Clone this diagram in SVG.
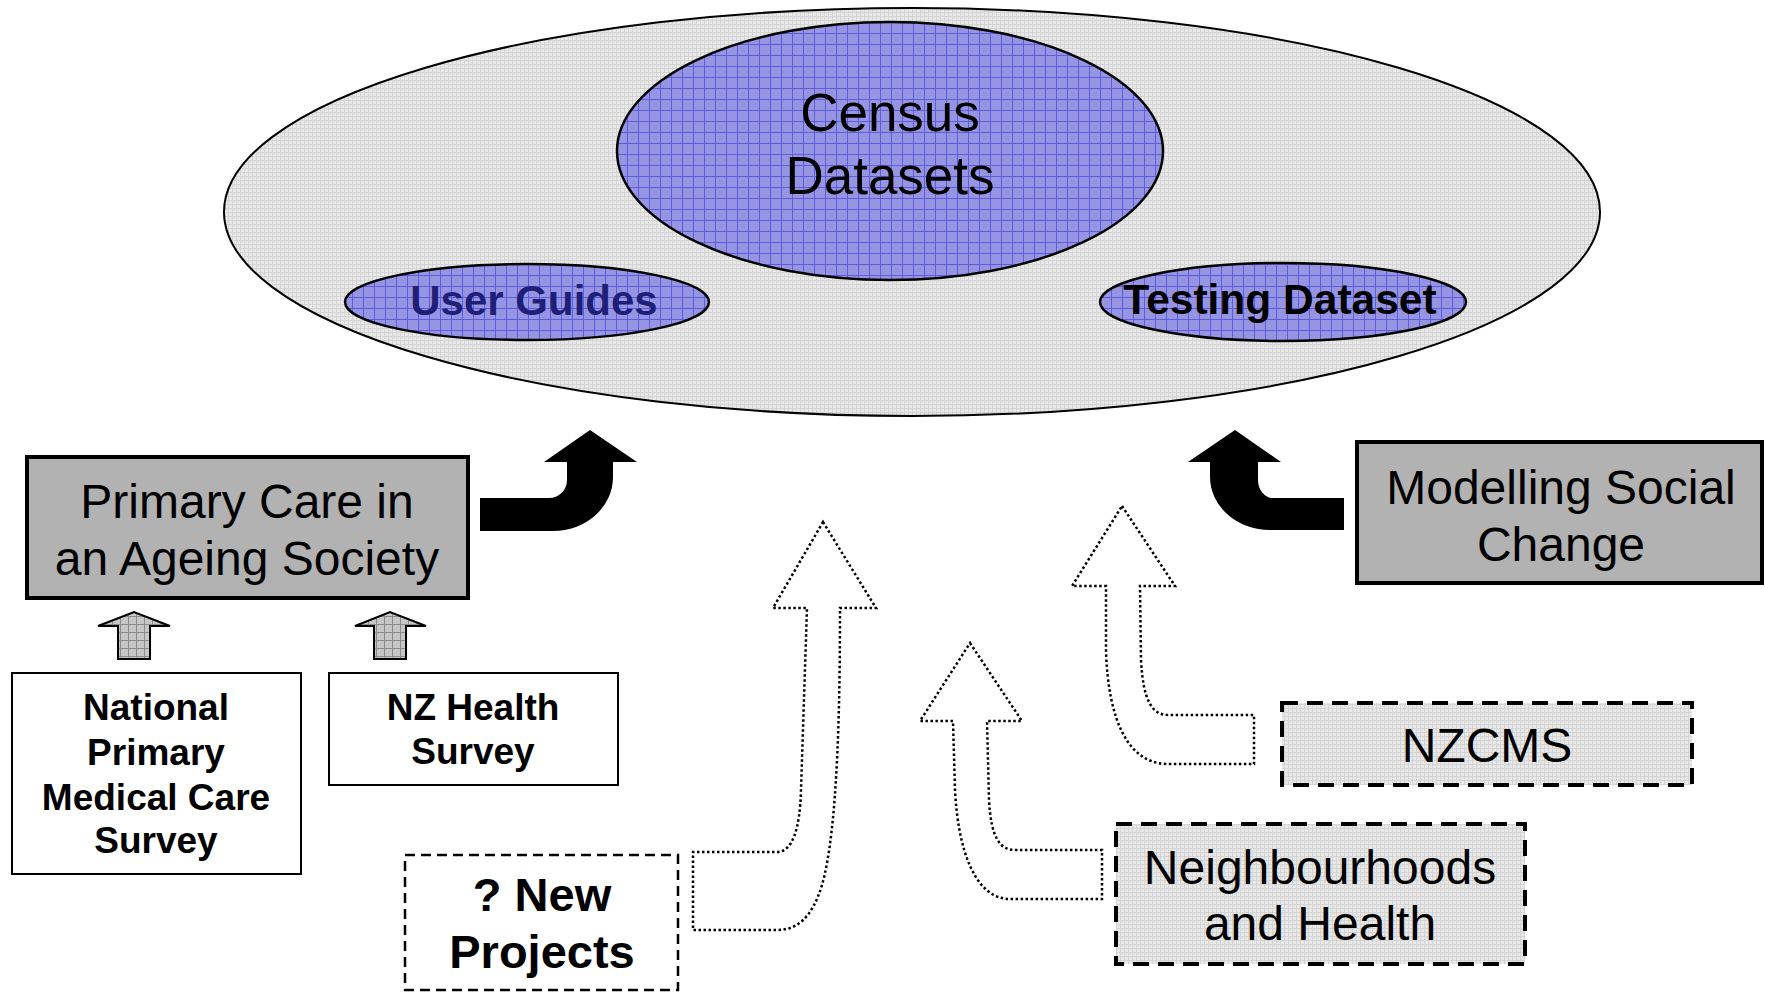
<svg xmlns="http://www.w3.org/2000/svg" width="1765" height="992" viewBox="0 0 1765 992">
  <defs>
    <!-- fine grey weave used for the outer pool and the dashed project boxes -->
    <pattern id="fineGray" width="4" height="4" patternUnits="userSpaceOnUse">
      <rect width="4" height="4" fill="#e8e8e8"/>
      <rect width="4" height="1" fill="#d4d4d4"/>
      <rect width="1" height="4" fill="#d4d4d4"/>
    </pattern>
    <!-- blue grid for the dataset ellipses -->
    <pattern id="blueGrid" width="11" height="11" patternUnits="userSpaceOnUse">
      <rect width="11" height="11" fill="#9595e4"/>
      <path d="M0 0.5H11M0.5 0V11" stroke="#5e5edc" stroke-width="1"/>
    </pattern>
    <!-- grey grid for the small feeder arrows -->
    <pattern id="arrowGrid" width="8" height="8" patternUnits="userSpaceOnUse">
      <rect width="8" height="8" fill="#c6c6c6"/>
      <path d="M0 0.5H8M0.5 0V8" stroke="#8c8c8c" stroke-width="1"/>
    </pattern>
    <style>
      .sans { font-family: "Liberation Sans", Arial, sans-serif; }
      .big { font-size: 48px; fill: #000; text-anchor: middle; }
      .bold { font-weight: bold; text-anchor: middle; fill: #000; }
      .solidBox { fill: #b2b2b2; stroke: #000; stroke-width: 4; }
      .plainBox { fill: #fff; stroke: #000; stroke-width: 2; }
      .dashBox { fill: url(#fineGray); stroke: #000; stroke-width: 4; stroke-dasharray: 16 9; }
      .dashBoxThin { fill: #fff; stroke: #000; stroke-width: 2.5; stroke-dasharray: 10 6; }
      .blackArrow { fill: #000; stroke: none; }
      .feedArrow { fill: url(#arrowGrid); stroke: #000; stroke-width: 2; stroke-linejoin: miter; }
      .dotArrow { fill: #fff; stroke: #000; stroke-width: 2.5; stroke-dasharray: 2.5 2.5; }
      .blueEll { fill: url(#blueGrid); stroke: #000; stroke-width: 2.5; }
    </style>
  </defs>

  <rect width="1765" height="992" fill="#fff"/>

  <!-- outer data pool -->
  <g id="pool">
    <ellipse cx="912" cy="212" rx="688" ry="204" fill="url(#fineGray)" stroke="#000" stroke-width="2"/>
  </g>

  <g id="census">
    <ellipse class="blueEll" cx="890" cy="151" rx="273" ry="129"/>
    <text class="sans" x="890" y="131" font-size="53" text-anchor="middle">Census</text>
    <text class="sans" x="890" y="194" font-size="53" text-anchor="middle">Datasets</text>
  </g>

  <g id="user-guides">
    <ellipse class="blueEll" cx="527" cy="302" rx="182" ry="38"/>
    <text class="sans bold" x="534" y="315" font-size="42" style="fill:#1f1f78">User Guides</text>
  </g>

  <g id="testing-dataset">
    <ellipse class="blueEll" cx="1283" cy="302" rx="183" ry="39"/>
    <text class="sans bold" x="1280" y="314" font-size="42.5">Testing Dataset</text>
  </g>

  <g id="primary-care">
    <rect class="solidBox" x="27" y="457" width="441" height="141"/>
    <text class="sans big" x="247" y="518">Primary Care in</text>
    <text class="sans big" x="247" y="575">an Ageing Society</text>
  </g>

  <g id="modelling-social-change">
    <rect class="solidBox" x="1357" y="442" width="405" height="141"/>
    <text class="sans big" x="1561" y="504">Modelling Social</text>
    <text class="sans big" x="1561" y="561">Change</text>
  </g>

  <g id="national-primary">
    <rect class="plainBox" x="12" y="673" width="289" height="201"/>
    <text class="sans bold" x="156" y="720" font-size="37">National</text>
    <text class="sans bold" x="156" y="765" font-size="37">Primary</text>
    <text class="sans bold" x="156" y="810" font-size="37">Medical Care</text>
    <text class="sans bold" x="156" y="853" font-size="37">Survey</text>
  </g>

  <g id="nz-health">
    <rect class="plainBox" x="329" y="673" width="289" height="112"/>
    <text class="sans bold" x="473" y="720" font-size="37">NZ Health</text>
    <text class="sans bold" x="473" y="764" font-size="37">Survey</text>
  </g>

  <g id="new-projects">
    <rect class="dashBoxThin" x="405" y="855" width="273" height="135"/>
    <text class="sans bold" x="542" y="911" font-size="47">? New</text>
    <text class="sans bold" x="542" y="968" font-size="47">Projects</text>
  </g>

  <g id="nzcms">
    <rect class="dashBox" x="1282" y="703" width="410" height="82"/>
    <text class="sans big" x="1487" y="762">NZCMS</text>
  </g>

  <g id="neighbourhoods">
    <rect class="dashBox" x="1116" y="824" width="409" height="140"/>
    <text class="sans big" x="1320" y="884">Neighbourhoods</text>
    <text class="sans big" x="1320" y="940">and Health</text>
  </g>

  <g id="connectors">
    <!-- bent solid arrows into the pool -->
    <path class="blackArrow" d="M480,498 L549,498 A18,18 0 0 0 567,480 L567,462 L544,462 L590,430 L637,462 L613,462 L613,477 A60,54 0 0 1 553,531 L480,531 Z"/>
    <path class="blackArrow" d="M1344,498 L1273,498 A15,18 0 0 1 1258,480 L1258,462 L1281,462 L1235,430 L1188,462 L1210,462 L1210,477 A60,53 0 0 0 1270,530 L1344,530 Z"/>

    <!-- short feeder arrows into Primary Care -->
    <path class="feedArrow" d="M118,659 L118,626 L98,626 L134,612 L170,626 L150,626 L150,659 Z"/>
    <path class="feedArrow" d="M374,659 L374,626 L355,626 L390,612 L426,626 L406,626 L406,659 Z"/>

    <!-- dotted outline arrows from the prospective projects -->
    <path class="dotArrow" d="M823,522 L876,608 L840,608 C840,700 838,830 822,885 C812,918 797,930 777,930 L693,930 L693,852 L777,852 C792,852 800,830 801,790 L807,608 L773,608 Z"/>
    <path class="dotArrow" d="M970,643 L1022,721 L987,721 L989,800 C991,838 1000,850 1015,850 L1102,850 L1102,899 L1010,899 C975,899 958,850 955,790 L953,721 L920,721 Z"/>
    <path class="dotArrow" d="M1122,506 L1175,586 L1140,586 L1141,660 C1143,700 1152,715 1168,715 L1254,715 L1254,764 L1168,764 C1128,764 1108,720 1106,650 L1106,586 L1072,586 Z"/>
  </g>
</svg>
